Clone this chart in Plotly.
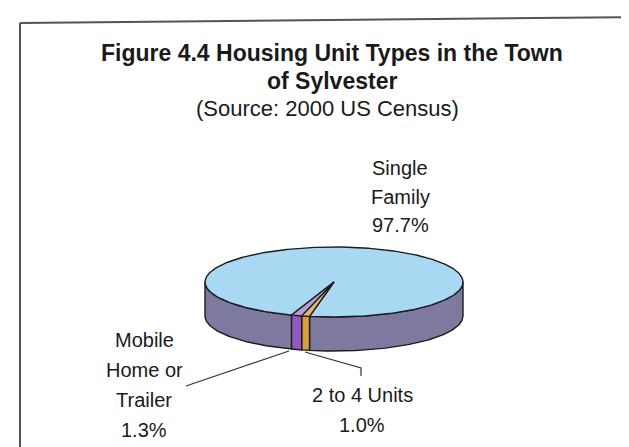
import numpy as np
import plotly.graph_objects as go

# ---- data ----
categories = ["Single Family", "2 to 4 Units", "Mobile Home or Trailer"]
values = [97.7, 1.0, 1.3]
label_lines = [["Single", "Family", "97.7%"],
               ["2 to 4 Units", "1.0%"],
               ["Mobile", "Home or", "Trailer", "1.3%"]]
top_colors = ["#a9d8f2", "#e2bb72", "#b79ad6"]
side_colors = ["#7d799f", "#d99e38", "#9358c2"]

# ---- geometry (pixel-space axes) ----
W, H = 629, 447
cx, cy = 326, 274
ra, rb = 129, 35
depth = 34
start_deg = 250.8  # slices proceed clockwise on screen from here

total = sum(values)
spans = [v / total * 360.0 for v in values]
intervals = []
hi = start_deg
for s in spans:
    intervals.append((hi - s, hi))
    hi -= s


def pt(theta_deg, dy=0.0):
    t = np.radians(theta_deg)
    return cx + ra * np.cos(t), cy - rb * np.sin(t) + dy


fig = go.Figure()
edge = dict(color="#1c1c1c", width=1.4)

# side walls (front half only: angles where sin < 0)
for i, (lo, hi_) in enumerate(intervals):
    for k in (-1, 0, 1):
        a0 = max(lo, -180 + 360 * k)
        a1 = min(hi_, 0 + 360 * k)
        if a1 <= a0:
            continue
        th = np.linspace(a0, a1, 80)
        xt, yt = pt(th)
        xb, yb = pt(th[::-1], depth)
        xs = np.concatenate([xt, xb, xt[:1]])
        ys = np.concatenate([yt, yb, yt[:1]])
        fig.add_trace(go.Scatter(x=xs, y=ys, mode="lines", fill="toself",
                                 fillcolor=side_colors[i], line=edge,
                                 hoverinfo="skip", showlegend=False))

# top faces
for i, (lo, hi_) in enumerate(intervals):
    th = np.linspace(lo, hi_, max(4, int((hi_ - lo) * 2)))
    xa, ya = pt(th)
    xs = np.concatenate([[cx], xa, [cx]])
    ys = np.concatenate([[cy], ya, [cy]])
    fig.add_trace(go.Scatter(x=xs, y=ys, mode="lines", fill="toself",
                             fillcolor=top_colors[i], line=edge,
                             hoverinfo="skip", showlegend=False))

font_fam = "Liberation Sans, Arial, sans-serif"
txt = "#1a1a1a"
ann = []


def add_lines(lines, x, y0, step, size, bold=False):
    for j, s in enumerate(lines):
        ann.append(dict(x=x, y=y0 + j * step, xref="x", yref="y",
                        text=f"<b>{s}</b>" if bold else s, showarrow=False,
                        xanchor="center", yanchor="middle",
                        font=dict(family=font_fam, size=size, color=txt)))


add_lines(["Figure 4.4 Housing Unit Types in the Town", "of Sylvester"], 324, 45, 28, 23, bold=True)
add_lines(["(Source: 2000 US Census)"], 319, 100, 0, 22)
add_lines(label_lines[0], 392, 160, 28.5, 20)
add_lines(label_lines[1], 354, 387, 30, 20)
add_lines(label_lines[2], 136, 332, 30, 20)

shapes = [
    # frame (scanned page border)
    dict(type="line", x0=12, y0=15, x1=12, y1=447, line=dict(color="#555", width=2)),
    dict(type="line", x0=12, y0=15, x1=629, y1=9, line=dict(color="#555", width=2)),
    dict(type="line", x0=12, y0=440, x1=629, y1=445, line=dict(color="#888", width=1.5)),
    # leader lines
    dict(type="line", x0=281, y0=343, x1=178, y1=378, line=dict(color="#333", width=1.2)),
    dict(type="path", path="M 297,344 L 353,360 L 353,368", line=dict(color="#333", width=1.2)),
]

fig.update_layout(
    width=W, height=H, autosize=False,
    margin=dict(l=0, r=0, t=0, b=0),
    paper_bgcolor="white", plot_bgcolor="white",
    xaxis=dict(range=[0, W], visible=False, fixedrange=True),
    yaxis=dict(range=[H, 0], visible=False, fixedrange=True),
    annotations=ann, shapes=shapes, showlegend=False,
)

fig.write_html("out.html")
